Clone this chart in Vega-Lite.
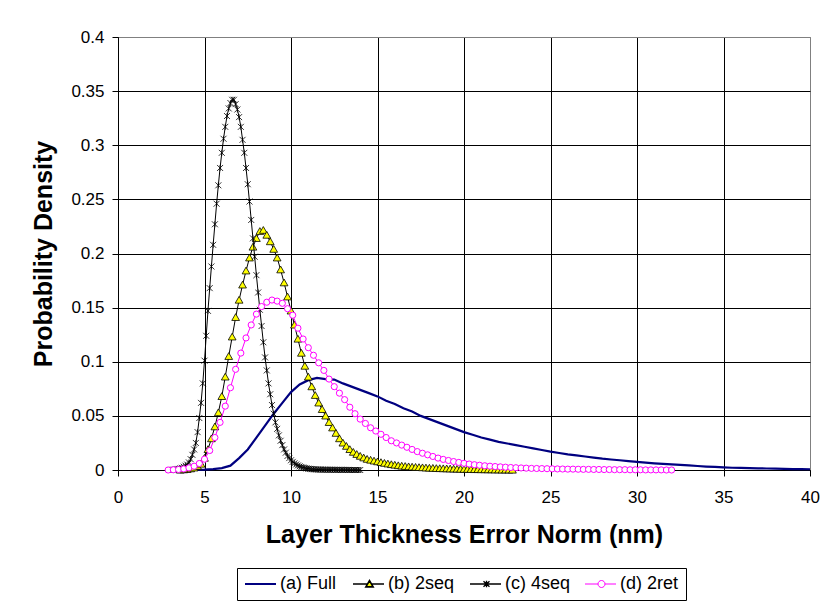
{
  "$schema": "https://vega.github.io/schema/vega-lite/v6.json",
  "width": 692,
  "height": 433,
  "autosize": {"type": "none"},
  "padding": {"left": 118, "top": 37, "right": 11, "bottom": 135},
  "background": "#ffffff",
  "config": {
    "font": "Liberation Sans",
    "view": {"stroke": "#808080", "strokeWidth": 1},
    "axis": {
      "labelFont": "Liberation Sans", "labelFontSize": 17, "labelColor": "#000000",
      "titleFont": "Liberation Sans", "titleFontSize": 25, "titleFontWeight": "bold", "titleColor": "#000000",
      "domainColor": "#000000", "tickColor": "#000000", "tickSize": 6,
      "gridWidth": 1, "labelFlush": false, "labelOverlap": false
    },
    "legend": {
      "orient": "none", "legendX": 119, "legendY": 531, "direction": "horizontal",
      "strokeColor": "#000000", "fillColor": "#ffffff", "padding": 7,
      "labelFont": "Liberation Sans", "labelFontSize": 18, "labelColor": "#000000",
      "symbolSize": 64, "labelOffset": 18, "columnPadding": 12,
      "symbolStrokeWidth": 1.2, "symbolOpacity": 1
    }
  },
  "data": {"values": [
    {"s":"(a) Full","x":4.5,"y":0},{"s":"(a) Full","x":5.0,"y":0.0003},{"s":"(a) Full","x":5.5,"y":0.0008},{"s":"(a) Full","x":6.0,"y":0.0018},{"s":"(a) Full","x":6.5,"y":0.004},{"s":"(a) Full","x":7.0,"y":0.011},{"s":"(a) Full","x":7.5,"y":0.019},{"s":"(a) Full","x":8.0,"y":0.030},{"s":"(a) Full","x":8.5,"y":0.041},{"s":"(a) Full","x":9.0,"y":0.052},{"s":"(a) Full","x":9.5,"y":0.062},{"s":"(a) Full","x":10.0,"y":0.072},{"s":"(a) Full","x":10.5,"y":0.079},{"s":"(a) Full","x":11.0,"y":0.083},{"s":"(a) Full","x":11.5,"y":0.085},{"s":"(a) Full","x":12.0,"y":0.084},{"s":"(a) Full","x":12.5,"y":0.0835},{"s":"(a) Full","x":13.0,"y":0.080},{"s":"(a) Full","x":13.5,"y":0.077},{"s":"(a) Full","x":14.0,"y":0.074},{"s":"(a) Full","x":14.5,"y":0.071},{"s":"(a) Full","x":15.0,"y":0.068},{"s":"(a) Full","x":15.5,"y":0.064},{"s":"(a) Full","x":16.0,"y":0.061},{"s":"(a) Full","x":16.5,"y":0.057},{"s":"(a) Full","x":17.0,"y":0.054},{"s":"(a) Full","x":17.5,"y":0.050},{"s":"(a) Full","x":18.0,"y":0.047},{"s":"(a) Full","x":18.5,"y":0.044},{"s":"(a) Full","x":19.0,"y":0.041},{"s":"(a) Full","x":19.5,"y":0.038},{"s":"(a) Full","x":20.0,"y":0.035},{"s":"(a) Full","x":20.5,"y":0.0325},{"s":"(a) Full","x":21.0,"y":0.030},{"s":"(a) Full","x":21.5,"y":0.028},{"s":"(a) Full","x":22.0,"y":0.026},{"s":"(a) Full","x":22.5,"y":0.0245},{"s":"(a) Full","x":23.0,"y":0.023},{"s":"(a) Full","x":23.5,"y":0.0215},{"s":"(a) Full","x":24.0,"y":0.020},{"s":"(a) Full","x":24.5,"y":0.0185},{"s":"(a) Full","x":25.0,"y":0.017},{"s":"(a) Full","x":25.5,"y":0.0157},{"s":"(a) Full","x":26.0,"y":0.0145},{"s":"(a) Full","x":26.5,"y":0.0135},{"s":"(a) Full","x":27.0,"y":0.0125},{"s":"(a) Full","x":27.5,"y":0.0115},{"s":"(a) Full","x":28.0,"y":0.0105},{"s":"(a) Full","x":28.5,"y":0.0097},{"s":"(a) Full","x":29.0,"y":0.009},{"s":"(a) Full","x":29.5,"y":0.0082},{"s":"(a) Full","x":30.0,"y":0.0075},{"s":"(a) Full","x":30.5,"y":0.0068},{"s":"(a) Full","x":31.0,"y":0.0062},{"s":"(a) Full","x":31.5,"y":0.0057},{"s":"(a) Full","x":32.0,"y":0.0052},{"s":"(a) Full","x":32.5,"y":0.0047},{"s":"(a) Full","x":33.0,"y":0.0042},{"s":"(a) Full","x":33.5,"y":0.0037},{"s":"(a) Full","x":34.0,"y":0.0032},{"s":"(a) Full","x":34.5,"y":0.0028},{"s":"(a) Full","x":35.0,"y":0.0024},{"s":"(a) Full","x":35.5,"y":0.0021},{"s":"(a) Full","x":36.0,"y":0.0019},{"s":"(a) Full","x":36.5,"y":0.0017},{"s":"(a) Full","x":37.0,"y":0.0015},{"s":"(a) Full","x":37.5,"y":0.0014},{"s":"(a) Full","x":38.0,"y":0.0012},{"s":"(a) Full","x":38.5,"y":0.0011},{"s":"(a) Full","x":39.0,"y":0.0009},{"s":"(a) Full","x":39.5,"y":0.0008},{"s":"(a) Full","x":40.0,"y":0.0007},

    {"s":"(b) 2seq","x":3.6,"y":0},{"s":"(b) 2seq","x":3.8,"y":0.0003},{"s":"(b) 2seq","x":4.0,"y":0.0006},{"s":"(b) 2seq","x":4.2,"y":0.0012},{"s":"(b) 2seq","x":4.4,"y":0.002},{"s":"(b) 2seq","x":4.6,"y":0.0035},{"s":"(b) 2seq","x":4.8,"y":0.0055},{"s":"(b) 2seq","x":5.0,"y":0.011},{"s":"(b) 2seq","x":5.2,"y":0.019},{"s":"(b) 2seq","x":5.4,"y":0.029},{"s":"(b) 2seq","x":5.6,"y":0.040},{"s":"(b) 2seq","x":5.8,"y":0.053},{"s":"(b) 2seq","x":6.0,"y":0.068},{"s":"(b) 2seq","x":6.2,"y":0.086},{"s":"(b) 2seq","x":6.4,"y":0.105},{"s":"(b) 2seq","x":6.6,"y":0.123},{"s":"(b) 2seq","x":6.8,"y":0.141},{"s":"(b) 2seq","x":7.0,"y":0.157},{"s":"(b) 2seq","x":7.2,"y":0.171},{"s":"(b) 2seq","x":7.4,"y":0.184},{"s":"(b) 2seq","x":7.6,"y":0.196},{"s":"(b) 2seq","x":7.8,"y":0.206},{"s":"(b) 2seq","x":8.0,"y":0.214},{"s":"(b) 2seq","x":8.2,"y":0.2205},{"s":"(b) 2seq","x":8.4,"y":0.2215},{"s":"(b) 2seq","x":8.6,"y":0.217},{"s":"(b) 2seq","x":8.8,"y":0.211},{"s":"(b) 2seq","x":9.0,"y":0.204},{"s":"(b) 2seq","x":9.2,"y":0.196},{"s":"(b) 2seq","x":9.4,"y":0.185},{"s":"(b) 2seq","x":9.6,"y":0.173},{"s":"(b) 2seq","x":9.8,"y":0.160},{"s":"(b) 2seq","x":10.0,"y":0.147},{"s":"(b) 2seq","x":10.2,"y":0.134},{"s":"(b) 2seq","x":10.4,"y":0.121},{"s":"(b) 2seq","x":10.6,"y":0.108},{"s":"(b) 2seq","x":10.8,"y":0.096},{"s":"(b) 2seq","x":11.0,"y":0.086},{"s":"(b) 2seq","x":11.2,"y":0.077},{"s":"(b) 2seq","x":11.4,"y":0.069},{"s":"(b) 2seq","x":11.6,"y":0.062},{"s":"(b) 2seq","x":11.8,"y":0.056},{"s":"(b) 2seq","x":12.0,"y":0.050},{"s":"(b) 2seq","x":12.2,"y":0.044},{"s":"(b) 2seq","x":12.4,"y":0.039},{"s":"(b) 2seq","x":12.6,"y":0.034},{"s":"(b) 2seq","x":12.8,"y":0.029},{"s":"(b) 2seq","x":13.0,"y":0.025},{"s":"(b) 2seq","x":13.2,"y":0.022},{"s":"(b) 2seq","x":13.4,"y":0.019},{"s":"(b) 2seq","x":13.6,"y":0.0165},{"s":"(b) 2seq","x":13.8,"y":0.0145},{"s":"(b) 2seq","x":14.0,"y":0.0128},{"s":"(b) 2seq","x":14.2,"y":0.0113},{"s":"(b) 2seq","x":14.4,"y":0.010},{"s":"(b) 2seq","x":14.6,"y":0.0092},{"s":"(b) 2seq","x":14.8,"y":0.0084},{"s":"(b) 2seq","x":15.0,"y":0.0077},{"s":"(b) 2seq","x":15.2,"y":0.007},{"s":"(b) 2seq","x":15.4,"y":0.0063},{"s":"(b) 2seq","x":15.6,"y":0.0057},{"s":"(b) 2seq","x":15.8,"y":0.0051},{"s":"(b) 2seq","x":16.0,"y":0.0046},{"s":"(b) 2seq","x":16.2,"y":0.0041},{"s":"(b) 2seq","x":16.4,"y":0.0037},{"s":"(b) 2seq","x":16.6,"y":0.0034},{"s":"(b) 2seq","x":16.8,"y":0.0031},{"s":"(b) 2seq","x":17.0,"y":0.0028},{"s":"(b) 2seq","x":17.2,"y":0.0026},{"s":"(b) 2seq","x":17.4,"y":0.0024},{"s":"(b) 2seq","x":17.6,"y":0.0022},{"s":"(b) 2seq","x":17.8,"y":0.002},{"s":"(b) 2seq","x":18.0,"y":0.0018},{"s":"(b) 2seq","x":18.2,"y":0.0017},{"s":"(b) 2seq","x":18.4,"y":0.0015},{"s":"(b) 2seq","x":18.6,"y":0.0014},{"s":"(b) 2seq","x":18.8,"y":0.0013},{"s":"(b) 2seq","x":19.0,"y":0.0012},{"s":"(b) 2seq","x":19.2,"y":0.0011},{"s":"(b) 2seq","x":19.4,"y":0.001},{"s":"(b) 2seq","x":19.6,"y":0.0009},{"s":"(b) 2seq","x":19.8,"y":0.0008},{"s":"(b) 2seq","x":20.0,"y":0.0007},{"s":"(b) 2seq","x":20.2,"y":0.0007},{"s":"(b) 2seq","x":20.4,"y":0.0006},{"s":"(b) 2seq","x":20.6,"y":0.0005},{"s":"(b) 2seq","x":20.8,"y":0.0005},{"s":"(b) 2seq","x":21.0,"y":0.0004},{"s":"(b) 2seq","x":21.2,"y":0.0004},{"s":"(b) 2seq","x":21.4,"y":0.0003},{"s":"(b) 2seq","x":21.6,"y":0.0003},{"s":"(b) 2seq","x":21.8,"y":0.0002},{"s":"(b) 2seq","x":22.0,"y":0.0002},{"s":"(b) 2seq","x":22.2,"y":0.0001},{"s":"(b) 2seq","x":22.4,"y":0.0001},{"s":"(b) 2seq","x":22.6,"y":0.0001},{"s":"(b) 2seq","x":22.8,"y":0},

    {"s":"(c) 4seq","x":3.0,"y":0},{"s":"(c) 4seq","x":3.1,"y":0},{"s":"(c) 4seq","x":3.2,"y":0.0003},{"s":"(c) 4seq","x":3.3,"y":0.0005},{"s":"(c) 4seq","x":3.4,"y":0.0007},{"s":"(c) 4seq","x":3.5,"y":0.001},{"s":"(c) 4seq","x":3.6,"y":0.0015},{"s":"(c) 4seq","x":3.7,"y":0.002},{"s":"(c) 4seq","x":3.8,"y":0.003},{"s":"(c) 4seq","x":3.9,"y":0.004},{"s":"(c) 4seq","x":4.0,"y":0.005},{"s":"(c) 4seq","x":4.1,"y":0.007},{"s":"(c) 4seq","x":4.2,"y":0.010},{"s":"(c) 4seq","x":4.3,"y":0.014},{"s":"(c) 4seq","x":4.4,"y":0.019},{"s":"(c) 4seq","x":4.5,"y":0.025},{"s":"(c) 4seq","x":4.6,"y":0.035},{"s":"(c) 4seq","x":4.7,"y":0.048},{"s":"(c) 4seq","x":4.8,"y":0.062},{"s":"(c) 4seq","x":4.9,"y":0.080},{"s":"(c) 4seq","x":5.0,"y":0.101},{"s":"(c) 4seq","x":5.1,"y":0.124},{"s":"(c) 4seq","x":5.2,"y":0.147},{"s":"(c) 4seq","x":5.3,"y":0.168},{"s":"(c) 4seq","x":5.4,"y":0.188},{"s":"(c) 4seq","x":5.5,"y":0.208},{"s":"(c) 4seq","x":5.6,"y":0.227},{"s":"(c) 4seq","x":5.7,"y":0.246},{"s":"(c) 4seq","x":5.8,"y":0.263},{"s":"(c) 4seq","x":5.9,"y":0.279},{"s":"(c) 4seq","x":6.0,"y":0.293},{"s":"(c) 4seq","x":6.1,"y":0.306},{"s":"(c) 4seq","x":6.2,"y":0.317},{"s":"(c) 4seq","x":6.3,"y":0.327},{"s":"(c) 4seq","x":6.4,"y":0.334},{"s":"(c) 4seq","x":6.5,"y":0.339},{"s":"(c) 4seq","x":6.6,"y":0.342},{"s":"(c) 4seq","x":6.7,"y":0.342},{"s":"(c) 4seq","x":6.8,"y":0.338},{"s":"(c) 4seq","x":6.9,"y":0.333},{"s":"(c) 4seq","x":7.0,"y":0.326},{"s":"(c) 4seq","x":7.1,"y":0.317},{"s":"(c) 4seq","x":7.2,"y":0.305},{"s":"(c) 4seq","x":7.3,"y":0.293},{"s":"(c) 4seq","x":7.4,"y":0.279},{"s":"(c) 4seq","x":7.5,"y":0.264},{"s":"(c) 4seq","x":7.6,"y":0.248},{"s":"(c) 4seq","x":7.7,"y":0.231},{"s":"(c) 4seq","x":7.8,"y":0.214},{"s":"(c) 4seq","x":7.9,"y":0.197},{"s":"(c) 4seq","x":8.0,"y":0.180},{"s":"(c) 4seq","x":8.1,"y":0.164},{"s":"(c) 4seq","x":8.2,"y":0.148},{"s":"(c) 4seq","x":8.3,"y":0.133},{"s":"(c) 4seq","x":8.4,"y":0.118},{"s":"(c) 4seq","x":8.5,"y":0.104},{"s":"(c) 4seq","x":8.6,"y":0.092},{"s":"(c) 4seq","x":8.7,"y":0.080},{"s":"(c) 4seq","x":8.8,"y":0.070},{"s":"(c) 4seq","x":8.9,"y":0.060},{"s":"(c) 4seq","x":9.0,"y":0.052},{"s":"(c) 4seq","x":9.1,"y":0.044},{"s":"(c) 4seq","x":9.2,"y":0.038},{"s":"(c) 4seq","x":9.3,"y":0.032},{"s":"(c) 4seq","x":9.4,"y":0.027},{"s":"(c) 4seq","x":9.5,"y":0.023},{"s":"(c) 4seq","x":9.6,"y":0.019},{"s":"(c) 4seq","x":9.7,"y":0.016},{"s":"(c) 4seq","x":9.8,"y":0.013},{"s":"(c) 4seq","x":9.9,"y":0.011},{"s":"(c) 4seq","x":10.0,"y":0.009},{"s":"(c) 4seq","x":10.1,"y":0.0075},{"s":"(c) 4seq","x":10.2,"y":0.0062},{"s":"(c) 4seq","x":10.3,"y":0.0051},{"s":"(c) 4seq","x":10.4,"y":0.0042},{"s":"(c) 4seq","x":10.5,"y":0.0034},{"s":"(c) 4seq","x":10.6,"y":0.0028},{"s":"(c) 4seq","x":10.7,"y":0.0023},{"s":"(c) 4seq","x":10.8,"y":0.0019},{"s":"(c) 4seq","x":10.9,"y":0.0015},{"s":"(c) 4seq","x":11.0,"y":0.0012},{"s":"(c) 4seq","x":11.1,"y":0.001},{"s":"(c) 4seq","x":11.2,"y":0.0008},{"s":"(c) 4seq","x":11.3,"y":0.0007},{"s":"(c) 4seq","x":11.4,"y":0.0006},{"s":"(c) 4seq","x":11.5,"y":0.0005},{"s":"(c) 4seq","x":11.6,"y":0.0004},{"s":"(c) 4seq","x":11.7,"y":0.0004},{"s":"(c) 4seq","x":11.8,"y":0.0003},{"s":"(c) 4seq","x":11.9,"y":0.0003},{"s":"(c) 4seq","x":12.0,"y":0.0003},{"s":"(c) 4seq","x":12.1,"y":0.0002},{"s":"(c) 4seq","x":12.2,"y":0.0002},{"s":"(c) 4seq","x":12.3,"y":0.0002},{"s":"(c) 4seq","x":12.4,"y":0.0002},{"s":"(c) 4seq","x":12.5,"y":0.0002},{"s":"(c) 4seq","x":12.6,"y":0.0001},{"s":"(c) 4seq","x":12.7,"y":0.0001},{"s":"(c) 4seq","x":12.8,"y":0.0001},{"s":"(c) 4seq","x":12.9,"y":0.0001},{"s":"(c) 4seq","x":13.0,"y":0.0001},{"s":"(c) 4seq","x":13.1,"y":0.0001},{"s":"(c) 4seq","x":13.2,"y":0.0001},{"s":"(c) 4seq","x":13.3,"y":0.0001},{"s":"(c) 4seq","x":13.4,"y":0},{"s":"(c) 4seq","x":13.5,"y":0},{"s":"(c) 4seq","x":13.6,"y":0},{"s":"(c) 4seq","x":13.7,"y":0},{"s":"(c) 4seq","x":13.8,"y":0},{"s":"(c) 4seq","x":13.9,"y":0},{"s":"(c) 4seq","x":14.0,"y":0},

    {"s":"(d) 2ret","x":2.9,"y":0},{"s":"(d) 2ret","x":3.2,"y":0.0002},{"s":"(d) 2ret","x":3.5,"y":0.0005},{"s":"(d) 2ret","x":3.8,"y":0.001},{"s":"(d) 2ret","x":4.1,"y":0.002},{"s":"(d) 2ret","x":4.4,"y":0.0035},{"s":"(d) 2ret","x":4.7,"y":0.006},{"s":"(d) 2ret","x":5.0,"y":0.010},{"s":"(d) 2ret","x":5.3,"y":0.018},{"s":"(d) 2ret","x":5.6,"y":0.030},{"s":"(d) 2ret","x":5.9,"y":0.044},{"s":"(d) 2ret","x":6.2,"y":0.059},{"s":"(d) 2ret","x":6.5,"y":0.076},{"s":"(d) 2ret","x":6.8,"y":0.093},{"s":"(d) 2ret","x":7.1,"y":0.108},{"s":"(d) 2ret","x":7.4,"y":0.122},{"s":"(d) 2ret","x":7.7,"y":0.134},{"s":"(d) 2ret","x":8.0,"y":0.144},{"s":"(d) 2ret","x":8.3,"y":0.151},{"s":"(d) 2ret","x":8.6,"y":0.155},{"s":"(d) 2ret","x":8.9,"y":0.157},{"s":"(d) 2ret","x":9.2,"y":0.156},{"s":"(d) 2ret","x":9.5,"y":0.154},{"s":"(d) 2ret","x":9.8,"y":0.149},{"s":"(d) 2ret","x":10.1,"y":0.143},{"s":"(d) 2ret","x":10.4,"y":0.131},{"s":"(d) 2ret","x":10.7,"y":0.121},{"s":"(d) 2ret","x":11.0,"y":0.113},{"s":"(d) 2ret","x":11.3,"y":0.106},{"s":"(d) 2ret","x":11.6,"y":0.099},{"s":"(d) 2ret","x":11.9,"y":0.092},{"s":"(d) 2ret","x":12.2,"y":0.084},{"s":"(d) 2ret","x":12.5,"y":0.077},{"s":"(d) 2ret","x":12.8,"y":0.071},{"s":"(d) 2ret","x":13.1,"y":0.065},{"s":"(d) 2ret","x":13.4,"y":0.058},{"s":"(d) 2ret","x":13.7,"y":0.052},{"s":"(d) 2ret","x":14.0,"y":0.047},{"s":"(d) 2ret","x":14.3,"y":0.043},{"s":"(d) 2ret","x":14.6,"y":0.039},{"s":"(d) 2ret","x":14.9,"y":0.036},{"s":"(d) 2ret","x":15.2,"y":0.033},{"s":"(d) 2ret","x":15.5,"y":0.030},{"s":"(d) 2ret","x":15.8,"y":0.027},{"s":"(d) 2ret","x":16.1,"y":0.025},{"s":"(d) 2ret","x":16.4,"y":0.023},{"s":"(d) 2ret","x":16.7,"y":0.021},{"s":"(d) 2ret","x":17.0,"y":0.019},{"s":"(d) 2ret","x":17.3,"y":0.017},{"s":"(d) 2ret","x":17.6,"y":0.0155},{"s":"(d) 2ret","x":17.9,"y":0.014},{"s":"(d) 2ret","x":18.2,"y":0.0125},{"s":"(d) 2ret","x":18.5,"y":0.011},{"s":"(d) 2ret","x":18.8,"y":0.0098},{"s":"(d) 2ret","x":19.1,"y":0.0088},{"s":"(d) 2ret","x":19.4,"y":0.0078},{"s":"(d) 2ret","x":19.7,"y":0.007},{"s":"(d) 2ret","x":20.0,"y":0.0062},{"s":"(d) 2ret","x":20.3,"y":0.0055},{"s":"(d) 2ret","x":20.6,"y":0.0049},{"s":"(d) 2ret","x":20.9,"y":0.0044},{"s":"(d) 2ret","x":21.2,"y":0.0039},{"s":"(d) 2ret","x":21.5,"y":0.0035},{"s":"(d) 2ret","x":21.8,"y":0.0032},{"s":"(d) 2ret","x":22.1,"y":0.0029},{"s":"(d) 2ret","x":22.4,"y":0.0026},{"s":"(d) 2ret","x":22.7,"y":0.0023},{"s":"(d) 2ret","x":23.0,"y":0.0021},{"s":"(d) 2ret","x":23.3,"y":0.0019},{"s":"(d) 2ret","x":23.6,"y":0.0017},{"s":"(d) 2ret","x":23.9,"y":0.0015},{"s":"(d) 2ret","x":24.2,"y":0.0014},{"s":"(d) 2ret","x":24.5,"y":0.0013},{"s":"(d) 2ret","x":24.8,"y":0.0012},{"s":"(d) 2ret","x":25.1,"y":0.0011},{"s":"(d) 2ret","x":25.4,"y":0.001},{"s":"(d) 2ret","x":25.7,"y":0.0009},{"s":"(d) 2ret","x":26.0,"y":0.0008},{"s":"(d) 2ret","x":26.3,"y":0.0008},{"s":"(d) 2ret","x":26.6,"y":0.0007},{"s":"(d) 2ret","x":26.9,"y":0.0006},{"s":"(d) 2ret","x":27.2,"y":0.0006},{"s":"(d) 2ret","x":27.5,"y":0.0005},{"s":"(d) 2ret","x":27.8,"y":0.0005},{"s":"(d) 2ret","x":28.1,"y":0.0004},{"s":"(d) 2ret","x":28.4,"y":0.0004},{"s":"(d) 2ret","x":28.7,"y":0.0003},{"s":"(d) 2ret","x":29.0,"y":0.0003},{"s":"(d) 2ret","x":29.3,"y":0.0003},{"s":"(d) 2ret","x":29.6,"y":0.0002},{"s":"(d) 2ret","x":29.9,"y":0.0002},{"s":"(d) 2ret","x":30.2,"y":0.0002},{"s":"(d) 2ret","x":30.5,"y":0.0001},{"s":"(d) 2ret","x":30.8,"y":0.0001},{"s":"(d) 2ret","x":31.1,"y":0.0001},{"s":"(d) 2ret","x":31.4,"y":0.0001},{"s":"(d) 2ret","x":31.7,"y":0},{"s":"(d) 2ret","x":32.0,"y":0}
  ]},
  "encoding": {
    "x": {
      "field": "x", "type": "quantitative",
      "scale": {"domain": [0, 40], "nice": false, "zero": false},
      "axis": {
        "values": [0, 5, 10, 15, 20, 25, 30, 35, 40],
        "title": "Layer Thickness Error Norm (nm)",
        "labelPadding": 13, "titlePadding": 17,
        "gridColor": {"condition": {"test": "datum.value === 40", "value": "#808080"}, "value": "#000000"}
      }
    },
    "y": {
      "field": "y", "type": "quantitative",
      "scale": {"domain": [0, 0.4], "nice": false},
      "axis": {
        "values": [0, 0.05, 0.1, 0.15, 0.2, 0.25, 0.3, 0.35, 0.4],
        "format": "~g",
        "title": "Probability Density",
        "labelPadding": 8, "titlePadding": 14,
        "gridColor": {"condition": {"test": "datum.value === 0.4", "value": "#808080"}, "value": "#000000"}
      }
    }
  },
  "layer": [
    {
      "transform": [{"filter": "datum.s === '(a) Full'"}],
      "mark": {"type": "line", "color": "#000080", "strokeWidth": 2.2, "opacity": 1}
    },
    {
      "transform": [{"filter": "datum.s === '(b) 2seq'"}],
      "mark": {"type": "line", "color": "#000000", "strokeWidth": 1}
    },
    {
      "transform": [{"filter": "datum.s === '(b) 2seq'"}],
      "mark": {"type": "point", "shape": "M-1,0.8L0,-0.95L1,0.8Z", "size": 60, "filled": true, "fill": "#ffff00", "stroke": "#000000", "strokeWidth": 0.8, "opacity": 1}
    },
    {
      "transform": [{"filter": "datum.s === '(c) 4seq'"}],
      "mark": {"type": "line", "color": "#000000", "strokeWidth": 1}
    },
    {
      "transform": [{"filter": "datum.s === '(c) 4seq'"}],
      "mark": {"type": "point", "shape": "M-1,-1L1,1M-1,1L1,-1M0,-1V1", "size": 36, "filled": false, "stroke": "#000000", "strokeWidth": 0.8, "opacity": 1}
    },
    {
      "transform": [{"filter": "datum.s === '(d) 2ret'"}],
      "mark": {"type": "line", "color": "#ff00ff", "strokeWidth": 1}
    },
    {
      "transform": [{"filter": "datum.s === '(d) 2ret'"}],
      "mark": {"type": "point", "shape": "circle", "size": 38, "filled": true, "fill": "#ffffff", "stroke": "#ff00ff", "strokeWidth": 1, "opacity": 1}
    },
    {
      "transform": [{"filter": "datum.x < 0"}],
      "mark": {"type": "point", "opacity": 1, "filled": false},
      "encoding": {
        "shape": {
          "field": "s", "type": "nominal",
          "scale": {"domain": ["(a) Full", "(b) 2seq", "(c) 4seq", "(d) 2ret"],
                    "range": ["M-2,0H5.75",
                              "M-2,0H1.63M2.62,0H5.75M1.225,0.7L2.125,-0.85L3.025,0.7Z",
                              "M-2,0H5.75M1.375,-0.7L2.875,0.7M1.375,0.7L2.875,-0.7M2.125,-0.8V0.8",
                              "M-2,0H1.25M3,0H5.75M1.25,0A0.875,0.875 0 1,0 3,0A0.875,0.875 0 1,0 1.25,0"]},
          "legend": {"title": null}
        },
        "fill": {
          "field": "s", "type": "nominal",
          "scale": {"domain": ["(a) Full", "(b) 2seq", "(c) 4seq", "(d) 2ret"], "range": ["transparent", "#ffff00", "transparent", "#ffffff"]},
          "legend": {"title": null}
        },
        "stroke": {
          "field": "s", "type": "nominal",
          "scale": {"domain": ["(a) Full", "(b) 2seq", "(c) 4seq", "(d) 2ret"], "range": ["#000080", "#000000", "#000000", "#ff00ff"]},
          "legend": {"title": null}
        },
        "strokeWidth": {
          "field": "s", "type": "ordinal",
          "scale": {"domain": ["(a) Full", "(b) 2seq", "(c) 4seq", "(d) 2ret"], "range": [2, 1, 1, 1]},
          "legend": {"title": null}
        }
      }
    }
  ]
}
